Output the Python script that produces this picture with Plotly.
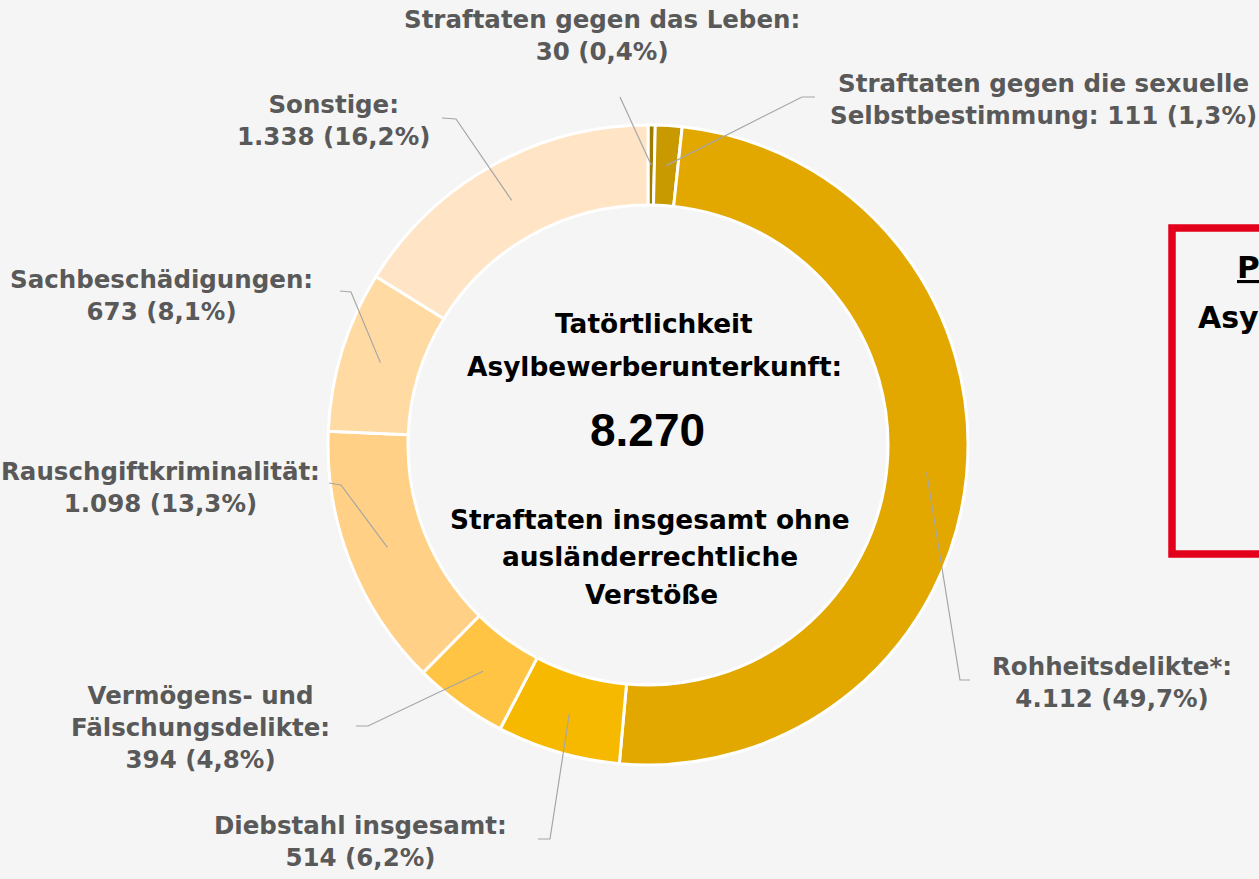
import math
import plotly.graph_objects as go

# ---------------- data ----------------
categories = [
    "Straftaten gegen das Leben",
    "Straftaten gegen die sexuelle Selbstbestimmung",
    "Rohheitsdelikte*",
    "Diebstahl insgesamt",
    "Vermögens- und Fälschungsdelikte",
    "Rauschgiftkriminalität",
    "Sachbeschädigungen",
    "Sonstige",
]
values = [30, 111, 4112, 514, 394, 1098, 673, 1338]

center_title = ["Tatörtlichkeit", "Asylbewerberunterkunft:"]
center_sub = ["Straftaten insgesamt ohne", "ausländerrechtliche", "Verstöße"]
box_lines = ["P", "Asy"]  # the only visible part of the box text

# ---------------- styles / layout ----------------
colors = ["#9E7C00", "#C99A00", "#E2A800", "#F7B900",
          "#FFC443", "#FFD086", "#FFDBA3", "#FFE5C5"]
label_names = [
    "Straftaten gegen das Leben:",
    "Straftaten gegen die sexuelle<br>Selbstbestimmung:",
    "Rohheitsdelikte*:",
    "Diebstahl insgesamt:",
    "Vermögens- und<br>Fälschungsdelikte:",
    "Rauschgiftkriminalität:",
    "Sachbeschädigungen:",
    "Sonstige:",
]
label_sep = ["<br>", " ", "<br>", "<br>", "<br>", "<br>", "<br>", "<br>"]
label_x = [602, 1043, 1112, 360, 200, 160, 162, 333]
label_y = [36, 99.5, 682.5, 841, 727, 487.5, 295, 120.5]
line_end = [(620, 97), (815, 97), (970, 680), (538, 839),
            (356, 726), (329, 483), (340, 291), (442, 118)]
line_elbow = [(620, 97), (802, 97), (960, 680), (550, 839),
              (368, 726), (341, 485), (351, 292), (456, 119)]

W, H = 1259, 879
CX, CY, R = 648, 445, 320
HOLE = 0.75
BG = "#F5F5F5"
GREY = "#595959"
LABEL_FONT = "DejaVu Sans"
LABEL_SIZE = 24.5


def px(x):
    return x / W


def py(y):
    return 1 - y / H


def de_int(v):
    return f"{v:,}".replace(",", ".")


total = sum(values)

fig = go.Figure()
fig.add_trace(go.Pie(
    labels=categories,
    values=values,
    sort=False,
    direction="clockwise",
    rotation=0,
    hole=HOLE,
    textinfo="none",
    marker=dict(colors=colors, line=dict(color="white", width=3)),
    domain=dict(x=[px(CX - R), px(CX + R)], y=[py(CY + R), py(CY - R)]),
    showlegend=False,
))

shapes = []
annotations = []
cum = 0
r_mid = R * (1 + HOLE) / 2
for i, v in enumerate(values):
    mid = (cum + v / 2) / total * 2 * math.pi
    cum += v
    sx = CX + r_mid * math.sin(mid)
    sy = CY - r_mid * math.cos(mid)
    ex, ey = line_end[i]
    bx, by = line_elbow[i]
    shapes.append(dict(
        type="path", xref="paper", yref="paper",
        path=f"M {px(ex)} {py(ey)} L {px(bx)} {py(by)} L {px(sx)} {py(sy)}",
        line=dict(color="#A6A6A6", width=1.2),
    ))
    pct = f"{v / total * 100:.1f}".replace(".", ",")
    text = f"{label_names[i]}{label_sep[i]}{de_int(v)} ({pct}%)"
    annotations.append(dict(
        x=px(label_x[i]), y=py(label_y[i]), xref="paper", yref="paper",
        text=text, showarrow=False, xanchor="center", yanchor="middle",
        align="center",
        font=dict(family=LABEL_FONT, size=LABEL_SIZE, color=GREY, weight=700),
    ))

# center text
center_lines = [
    (center_title[0], 654, 324, LABEL_FONT, 26.4),
    (center_title[1], 654, 366, LABEL_FONT, 26.4),
    (de_int(total), 648, 430, "Liberation Sans", 46),
    (center_sub[0], 650, 519, LABEL_FONT, 26.4),
    (center_sub[1], 650, 556, LABEL_FONT, 26.4),
    (center_sub[2], 651, 594, LABEL_FONT, 26.4),
]
for t, x, y, fam, size in center_lines:
    annotations.append(dict(
        x=px(x), y=py(y), xref="paper", yref="paper", text=t,
        showarrow=False, xanchor="center", yanchor="middle",
        font=dict(family=fam, size=size, color="black", weight=700),
    ))

# red info box (cut off at the right edge)
shapes.append(dict(
    type="rect", xref="paper", yref="paper",
    x0=px(1172), x1=px(1400), y0=py(554), y1=py(228),
    line=dict(color="#E3001B", width=7.5), fillcolor=BG,
))
annotations.append(dict(
    x=px(1235), y=py(266.5), xref="paper", yref="paper",
    text=f"<u>{box_lines[0]}</u>", showarrow=False,
    xanchor="left", yanchor="middle",
    font=dict(family=LABEL_FONT, size=31, color="black", weight=700),
))
annotations.append(dict(
    x=px(1196), y=py(317.5), xref="paper", yref="paper",
    text=box_lines[1], showarrow=False,
    xanchor="left", yanchor="middle",
    font=dict(family=LABEL_FONT, size=30, color="black", weight=700),
))

fig.update_layout(
    width=W, height=H,
    margin=dict(l=0, r=0, t=0, b=0),
    paper_bgcolor=BG, plot_bgcolor=BG,
    shapes=shapes, annotations=annotations,
    showlegend=False,
)

fig.write_html(
    "out.html",
    config={"displayModeBar": False},
    post_script="document.body.style.margin='0px';"
                "document.body.style.overflow='hidden';",
)
